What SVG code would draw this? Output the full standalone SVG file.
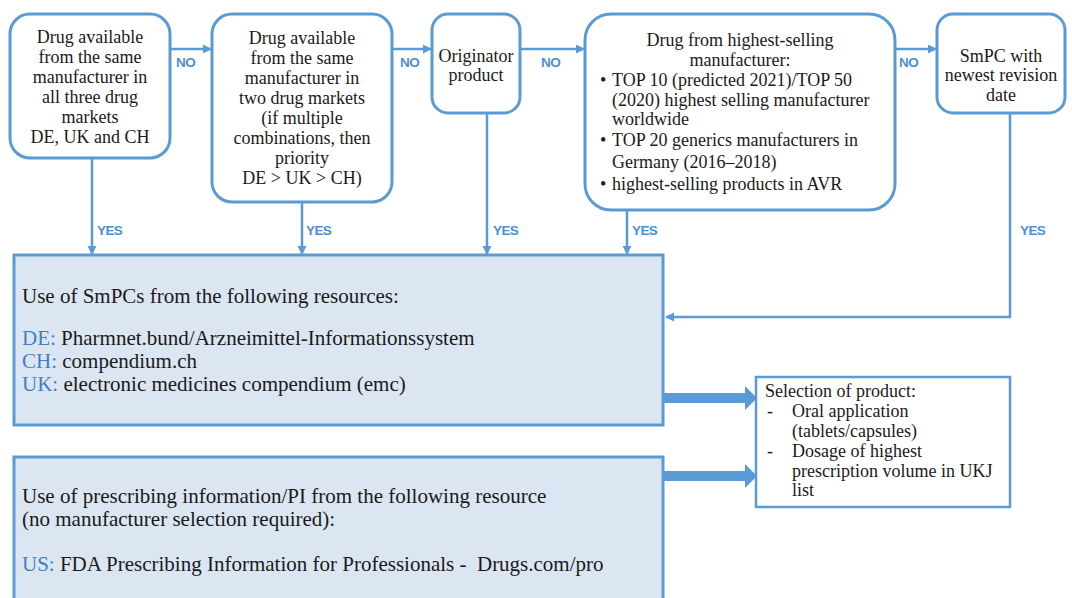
<svg xmlns="http://www.w3.org/2000/svg" width="1072" height="598" viewBox="0 0 1072 598">
<defs>
<style>
.box{fill:#ffffff;stroke:#5b9bd5;stroke-width:3}
.big{fill:#dce6f2;stroke:#5b9bd5;stroke-width:3}
.sel{fill:#ffffff;stroke:#5b9bd5;stroke-width:2.5}
.t{font-family:"Liberation Serif",serif;font-size:18px;fill:#1a1a1a}
.c{text-anchor:middle}
.bt{font-family:"Liberation Serif",serif;font-size:21px;fill:#1a1a1a}
.k{fill:#3f7fc4}
.lab{font-family:"Liberation Sans",sans-serif;font-weight:bold;font-size:13.5px;fill:#4a8fd6;letter-spacing:-0.6px}
.ln{fill:none;stroke:#5b9bd5;stroke-width:2.5}
.thick{fill:#5b9bd5}
</style>
<marker id="ah" markerWidth="10" markerHeight="10" refX="8" refY="5" orient="auto" markerUnits="userSpaceOnUse">
<path d="M0,0.5 L9,5 L0,9.5 Z" fill="#5b9bd5"/>
</marker>
</defs>
<rect width="1072" height="598" fill="#ffffff"/>

<g id="connectors">
<line class="ln" x1="170" y1="49" x2="211" y2="49" marker-end="url(#ah)"/>
<line class="ln" x1="392" y1="49" x2="431" y2="49" marker-end="url(#ah)"/>
<line class="ln" x1="520" y1="49" x2="584" y2="49" marker-end="url(#ah)"/>
<line class="ln" x1="895" y1="49" x2="936" y2="49" marker-end="url(#ah)"/>
<line class="ln" x1="92" y1="158" x2="92" y2="254" marker-end="url(#ah)"/>
<line class="ln" x1="302" y1="202" x2="302" y2="254" marker-end="url(#ah)"/>
<line class="ln" x1="487" y1="113" x2="487" y2="254" marker-end="url(#ah)"/>
<line class="ln" x1="627" y1="206" x2="627" y2="254" marker-end="url(#ah)"/>
<polyline class="ln" points="1010,113 1010,317 666,317" marker-end="url(#ah)"/>
<polygon class="thick" points="663,393 745,393 745,386 757,398 745,410 745,403 663,403"/>
<polygon class="thick" points="663,471 745,471 745,464 757,476 745,488 745,481 663,481"/>
<text class="lab" x="176" y="67">NO</text>
<text class="lab" x="400" y="67">NO</text>
<text class="lab" x="541" y="67">NO</text>
<text class="lab" x="899" y="67">NO</text>
<text class="lab" x="97" y="235">YES</text>
<text class="lab" x="306" y="235">YES</text>
<text class="lab" x="493" y="235">YES</text>
<text class="lab" x="632" y="235">YES</text>
<text class="lab" x="1020" y="235">YES</text>
</g>

<g id="node1">
<rect class="box" x="10" y="14" width="160" height="144" rx="20"/>
<text class="t c" x="90" y="43">Drug available</text>
<text class="t c" x="90" y="63">from the same</text>
<text class="t c" x="90" y="83">manufacturer in</text>
<text class="t c" x="90" y="103">all three drug</text>
<text class="t c" x="90" y="123">markets</text>
<text class="t c" x="90" y="143">DE, UK and CH</text>
</g>

<g id="node2">
<rect class="box" x="212" y="14" width="180" height="188" rx="20"/>
<text class="t c" x="302" y="44">Drug available</text>
<text class="t c" x="302" y="64">from the same</text>
<text class="t c" x="302" y="84">manufacturer in</text>
<text class="t c" x="302" y="104">two drug markets</text>
<text class="t c" x="302" y="124">(if multiple</text>
<text class="t c" x="302" y="144">combinations, then</text>
<text class="t c" x="302" y="164">priority</text>
<text class="t c" x="302" y="184">DE &gt; UK &gt; CH)</text>
</g>

<g id="node3">
<rect class="box" x="432" y="14" width="88" height="99" rx="16"/>
<text class="t c" x="476" y="62">Originator</text>
<text class="t c" x="476" y="81">product</text>
</g>

<g id="node4">
<rect class="box" x="585" y="14" width="310" height="196" rx="26"/>
<text class="t c" x="740" y="46">Drug from highest-selling</text>
<text class="t c" x="740" y="66">manufacturer:</text>
<text class="t" x="600" y="86">•</text>
<text class="t" x="612" y="86">TOP 10 (predicted 2021)/TOP 50</text>
<text class="t" x="612" y="106">(2020) highest selling manufacturer</text>
<text class="t" x="612" y="125">worldwide</text>
<text class="t" x="600" y="146">•</text>
<text class="t" x="612" y="146">TOP 20 generics manufacturers in</text>
<text class="t" x="612" y="168">Germany (2016–2018)</text>
<text class="t" x="600" y="190">•</text>
<text class="t" x="612" y="190">highest-selling products in AVR</text>
</g>

<g id="node5">
<rect class="box" x="937" y="14" width="128" height="99" rx="16"/>
<text class="t c" x="1001" y="62">SmPC with</text>
<text class="t c" x="1001" y="81">newest revision</text>
<text class="t c" x="1001" y="101">date</text>
</g>

<g id="node6">
<rect class="big" x="14" y="255" width="649" height="170"/>
<text class="bt" x="22" y="303">Use of SmPCs from the following resources:</text>
<text class="bt" x="22" y="345"><tspan class="k">DE:</tspan> Pharmnet.bund/Arzneimittel-Informationssystem</text>
<text class="bt" x="22" y="368"><tspan class="k">CH:</tspan> compendium.ch</text>
<text class="bt" x="22" y="391"><tspan class="k">UK:</tspan> electronic medicines compendium (emc)</text>
</g>

<g id="node7">
<rect class="big" x="14" y="457" width="649" height="150"/>
<text class="bt" x="22" y="503">Use of prescribing information/PI from the following resource</text>
<text class="bt" x="22" y="526">(no manufacturer selection required):</text>
<text class="bt" x="22" y="571" xml:space="preserve"><tspan class="k">US:</tspan> FDA Prescribing Information for Professionals -  Drugs.com/pro</text>
</g>

<g id="node8">
<rect class="sel" x="756" y="377" width="254" height="130"/>
<text class="t" x="765" y="397">Selection of product:</text>
<text class="t" x="767" y="417">-</text>
<text class="t" x="792" y="417">Oral application</text>
<text class="t" x="792" y="437">(tablets/capsules)</text>
<text class="t" x="767" y="457">-</text>
<text class="t" x="792" y="457">Dosage of highest</text>
<text class="t" x="792" y="477">prescription volume in UKJ</text>
<text class="t" x="792" y="496">list</text>
</g>
</svg>
